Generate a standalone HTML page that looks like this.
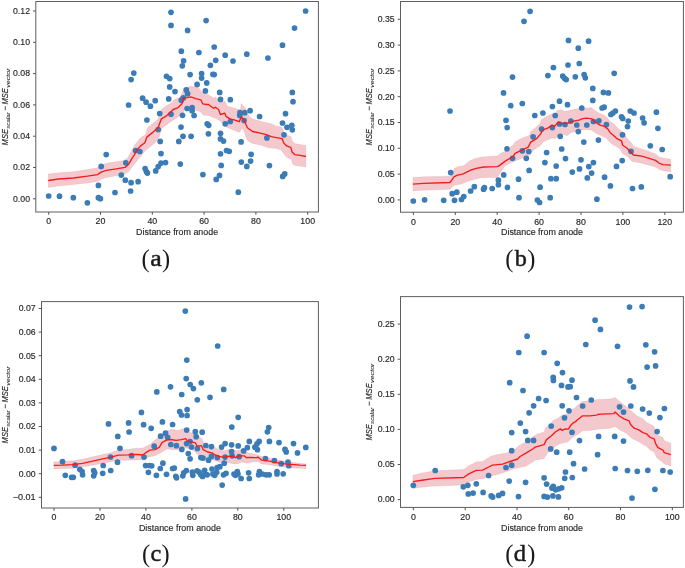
<!DOCTYPE html>
<html><head><meta charset="utf-8"><title>Figure</title>
<style>html,body{margin:0;padding:0;background:#fff}body{width:685px;height:568px;overflow:hidden;font-family:"Liberation Sans",sans-serif}</style>
</head><body>
<svg width="685" height="568" viewBox="0 0 685 568" style="display:block" font-family="'Liberation Sans', sans-serif">
<rect width="685" height="568" fill="#fff"/>
<clipPath id="ca"><rect x="35.8" y="1.5" width="282.6" height="210.5"/></clipPath>
<g clip-path="url(#ca)">
<polygon points="48.3,174.0 58.6,172.7 73.6,171.7 87.4,169.6 97.5,167.7 101.2,165.2 106.3,163.3 116.3,161.8 123.8,160.5 127.6,157.9 132.0,150.1 135.5,144.0 140.6,137.7 145.6,134.6 147.5,127.7 153.1,123.3 158.1,118.9 161.3,109.5 165.7,106.3 170.7,103.2 174.5,99.4 179.5,97.6 182.0,93.8 183.9,88.1 190.8,86.3 198.3,87.5 202.1,91.9 208.4,95.0 211.0,96.3 213.5,98.2 215.4,96.9 218.6,100.1 221.1,102.6 224.8,101.3 227.3,106.3 234.9,108.2 240.5,110.1 241.2,103.6 245.5,108.2 246.2,112.6 249.9,117.0 252.5,118.9 261.2,121.4 271.3,123.7 275.1,125.7 281.4,126.9 283.3,130.1 283.9,133.9 290.8,136.4 292.1,140.8 294.6,143.6 300.2,144.5 305.9,145.5 305.9,167.1 300.2,166.2 295.2,165.6 292.7,164.0 291.4,159.6 286.4,157.1 283.3,153.3 281.4,149.9 275.1,148.3 268.8,147.8 261.2,145.3 252.5,143.4 248.1,140.9 246.2,137.7 243.7,130.2 241.8,128.3 239.9,132.1 237.4,131.7 231.1,128.9 226.1,127.1 223.6,123.9 219.8,120.8 215.4,118.3 211.0,116.4 209.6,115.8 203.3,115.1 200.8,112.0 195.8,110.1 190.8,108.2 185.1,107.6 183.2,112.6 178.2,117.0 169.4,122.7 161.9,128.3 158.8,137.7 155.0,142.8 145.6,150.3 132.0,167.1 128.9,171.5 123.8,174.6 116.3,175.8 106.3,177.5 101.2,179.2 97.5,181.5 87.4,183.1 73.6,184.6 58.6,186.1 48.3,187.4" fill="#d42638" fill-opacity="0.25" stroke="#d42638" stroke-width="0.6" stroke-opacity="0.16"/>
<g fill="#3b7cb6">
<circle cx="171.0" cy="12.3" r="2.85"/>
<circle cx="171.0" cy="25.4" r="2.85"/>
<circle cx="133.8" cy="73.1" r="2.85"/>
<circle cx="131.1" cy="79.6" r="2.85"/>
<circle cx="166.5" cy="76.3" r="2.85"/>
<circle cx="169.7" cy="78.6" r="2.85"/>
<circle cx="169.7" cy="86.9" r="2.85"/>
<circle cx="142.6" cy="98.2" r="2.85"/>
<circle cx="146.1" cy="102.2" r="2.85"/>
<circle cx="150.4" cy="106.2" r="2.85"/>
<circle cx="155.2" cy="100.7" r="2.85"/>
<circle cx="128.6" cy="105.0" r="2.85"/>
<circle cx="168.7" cy="98.9" r="2.85"/>
<circle cx="159.7" cy="113.5" r="2.85"/>
<circle cx="146.9" cy="120.0" r="2.85"/>
<circle cx="158.2" cy="129.6" r="2.85"/>
<circle cx="171.0" cy="114.2" r="2.85"/>
<circle cx="160.2" cy="141.4" r="2.85"/>
<circle cx="48.7" cy="196.0" r="2.85"/>
<circle cx="59.5" cy="196.2" r="2.85"/>
<circle cx="73.3" cy="197.7" r="2.85"/>
<circle cx="87.4" cy="202.8" r="2.85"/>
<circle cx="98.4" cy="197.7" r="2.85"/>
<circle cx="100.4" cy="198.7" r="2.85"/>
<circle cx="115.0" cy="192.5" r="2.85"/>
<circle cx="98.4" cy="185.4" r="2.85"/>
<circle cx="101.2" cy="166.4" r="2.85"/>
<circle cx="106.2" cy="154.6" r="2.85"/>
<circle cx="121.3" cy="175.1" r="2.85"/>
<circle cx="125.3" cy="180.2" r="2.85"/>
<circle cx="131.1" cy="182.7" r="2.85"/>
<circle cx="138.1" cy="181.7" r="2.85"/>
<circle cx="130.6" cy="191.0" r="2.85"/>
<circle cx="125.8" cy="162.8" r="2.85"/>
<circle cx="135.6" cy="150.5" r="2.85"/>
<circle cx="139.9" cy="151.5" r="2.85"/>
<circle cx="145.1" cy="168.6" r="2.85"/>
<circle cx="146.4" cy="171.6" r="2.85"/>
<circle cx="147.4" cy="173.1" r="2.85"/>
<circle cx="155.7" cy="170.9" r="2.85"/>
<circle cx="158.2" cy="166.6" r="2.85"/>
<circle cx="161.0" cy="163.1" r="2.85"/>
<circle cx="165.5" cy="162.6" r="2.85"/>
<circle cx="161.0" cy="153.6" r="2.85"/>
<circle cx="187.6" cy="30.4" r="2.85"/>
<circle cx="206.1" cy="20.6" r="2.85"/>
<circle cx="305.6" cy="11.0" r="2.85"/>
<circle cx="294.5" cy="28.1" r="2.85"/>
<circle cx="282.5" cy="45.2" r="2.85"/>
<circle cx="267.9" cy="58.0" r="2.85"/>
<circle cx="246.8" cy="54.2" r="2.85"/>
<circle cx="214.2" cy="47.0" r="2.85"/>
<circle cx="181.3" cy="51.2" r="2.85"/>
<circle cx="198.9" cy="52.5" r="2.85"/>
<circle cx="225.2" cy="55.2" r="2.85"/>
<circle cx="215.7" cy="60.3" r="2.85"/>
<circle cx="233.0" cy="61.0" r="2.85"/>
<circle cx="183.6" cy="60.8" r="2.85"/>
<circle cx="182.3" cy="65.8" r="2.85"/>
<circle cx="210.4" cy="65.3" r="2.85"/>
<circle cx="190.1" cy="74.6" r="2.85"/>
<circle cx="201.6" cy="73.6" r="2.85"/>
<circle cx="201.6" cy="78.1" r="2.85"/>
<circle cx="212.9" cy="74.3" r="2.85"/>
<circle cx="214.2" cy="74.6" r="2.85"/>
<circle cx="197.1" cy="84.4" r="2.85"/>
<circle cx="206.7" cy="82.9" r="2.85"/>
<circle cx="175.0" cy="91.6" r="2.85"/>
<circle cx="186.3" cy="89.9" r="2.85"/>
<circle cx="187.6" cy="93.7" r="2.85"/>
<circle cx="205.4" cy="90.9" r="2.85"/>
<circle cx="219.7" cy="92.4" r="2.85"/>
<circle cx="220.5" cy="99.4" r="2.85"/>
<circle cx="230.3" cy="99.7" r="2.85"/>
<circle cx="181.3" cy="100.2" r="2.85"/>
<circle cx="183.3" cy="97.9" r="2.85"/>
<circle cx="187.1" cy="108.5" r="2.85"/>
<circle cx="192.1" cy="107.5" r="2.85"/>
<circle cx="192.1" cy="110.7" r="2.85"/>
<circle cx="194.1" cy="115.5" r="2.85"/>
<circle cx="182.5" cy="115.3" r="2.85"/>
<circle cx="292.3" cy="92.4" r="2.85"/>
<circle cx="293.0" cy="101.7" r="2.85"/>
<circle cx="285.5" cy="113.7" r="2.85"/>
<circle cx="250.1" cy="110.7" r="2.85"/>
<circle cx="244.8" cy="112.7" r="2.85"/>
<circle cx="240.0" cy="112.7" r="2.85"/>
<circle cx="239.8" cy="115.5" r="2.85"/>
<circle cx="259.6" cy="116.5" r="2.85"/>
<circle cx="244.1" cy="120.5" r="2.85"/>
<circle cx="230.3" cy="121.5" r="2.85"/>
<circle cx="225.2" cy="123.8" r="2.85"/>
<circle cx="207.2" cy="123.8" r="2.85"/>
<circle cx="208.7" cy="125.3" r="2.85"/>
<circle cx="181.0" cy="127.1" r="2.85"/>
<circle cx="208.4" cy="133.8" r="2.85"/>
<circle cx="220.5" cy="133.3" r="2.85"/>
<circle cx="183.0" cy="136.3" r="2.85"/>
<circle cx="191.1" cy="136.3" r="2.85"/>
<circle cx="220.5" cy="138.9" r="2.85"/>
<circle cx="223.5" cy="141.1" r="2.85"/>
<circle cx="178.8" cy="141.4" r="2.85"/>
<circle cx="282.5" cy="123.0" r="2.85"/>
<circle cx="287.0" cy="127.3" r="2.85"/>
<circle cx="291.8" cy="125.3" r="2.85"/>
<circle cx="292.3" cy="129.8" r="2.85"/>
<circle cx="284.0" cy="134.8" r="2.85"/>
<circle cx="266.9" cy="137.9" r="2.85"/>
<circle cx="241.1" cy="141.9" r="2.85"/>
<circle cx="220.5" cy="153.8" r="2.85"/>
<circle cx="226.5" cy="150.5" r="2.85"/>
<circle cx="229.2" cy="151.3" r="2.85"/>
<circle cx="251.1" cy="154.3" r="2.85"/>
<circle cx="180.3" cy="164.1" r="2.85"/>
<circle cx="221.2" cy="165.4" r="2.85"/>
<circle cx="241.3" cy="162.1" r="2.85"/>
<circle cx="250.6" cy="161.1" r="2.85"/>
<circle cx="246.8" cy="166.4" r="2.85"/>
<circle cx="269.4" cy="165.6" r="2.85"/>
<circle cx="202.9" cy="174.6" r="2.85"/>
<circle cx="219.5" cy="175.4" r="2.85"/>
<circle cx="216.2" cy="179.4" r="2.85"/>
<circle cx="284.7" cy="173.9" r="2.85"/>
<circle cx="282.7" cy="176.4" r="2.85"/>
<circle cx="238.3" cy="192.2" r="2.85"/>
</g>
<polyline points="48.3,180.5 58.6,179.0 73.6,178.0 87.4,176.2 97.5,174.6 101.2,172.1 106.3,170.4 116.3,168.9 125.1,167.4 128.9,163.9 132.0,158.3 133.6,156.1 136.8,150.3 140.6,145.9 144.9,142.8 146.8,137.1 153.1,132.1 158.1,127.7 161.3,118.9 165.7,116.4 170.7,112.0 173.2,109.5 178.2,107.6 182.0,103.8 183.2,98.2 187.0,97.6 190.8,96.9 195.8,98.6 200.8,99.8 202.7,103.8 206.5,104.5 208.5,104.5 213.5,108.2 215.4,107.3 218.6,109.5 220.4,114.5 224.8,113.2 226.1,116.4 229.9,118.9 234.9,120.2 239.3,121.7 241.2,117.0 243.7,119.5 247.4,127.7 252.5,131.5 261.2,133.3 266.3,134.6 271.3,136.7 275.1,137.4 282.0,138.6 283.9,143.3 287.0,146.2 290.8,147.4 292.1,152.1 294.6,154.6 300.2,155.4 305.9,156.5" fill="none" stroke="#f61a1c" stroke-width="1.35" stroke-linejoin="round"/>
</g>
<rect x="35.8" y="1.5" width="282.6" height="210.5" fill="none" stroke="#5e5e5e" stroke-width="1"/>
<path d="M48.7 212.0v2.8M100.5 212.0v2.8M152.3 212.0v2.8M204.1 212.0v2.8M255.9 212.0v2.8M307.7 212.0v2.8M35.8 198.8h-2.8M35.8 167.5h-2.8M35.8 136.2h-2.8M35.8 104.9h-2.8M35.8 73.6h-2.8M35.8 42.3h-2.8M35.8 11.0h-2.8" stroke="#444" stroke-width="0.9" fill="none"/>
<g fill="#262626" font-size="8.9" stroke="#262626" stroke-width="0.15" style="filter:grayscale(1)">
<text x="48.7" y="224.3" text-anchor="middle" textLength="4.9" lengthAdjust="spacingAndGlyphs">0</text>
<text x="100.5" y="224.3" text-anchor="middle" textLength="9.8" lengthAdjust="spacingAndGlyphs">20</text>
<text x="152.3" y="224.3" text-anchor="middle" textLength="9.8" lengthAdjust="spacingAndGlyphs">40</text>
<text x="204.1" y="224.3" text-anchor="middle" textLength="9.8" lengthAdjust="spacingAndGlyphs">60</text>
<text x="255.9" y="224.3" text-anchor="middle" textLength="9.8" lengthAdjust="spacingAndGlyphs">80</text>
<text x="307.7" y="224.3" text-anchor="middle" textLength="14.7" lengthAdjust="spacingAndGlyphs">100</text>
<text x="30.0" y="201.6" text-anchor="end" textLength="17.0" lengthAdjust="spacingAndGlyphs">0.00</text>
<text x="30.0" y="170.3" text-anchor="end" textLength="17.0" lengthAdjust="spacingAndGlyphs">0.02</text>
<text x="30.0" y="139.0" text-anchor="end" textLength="17.0" lengthAdjust="spacingAndGlyphs">0.04</text>
<text x="30.0" y="107.7" text-anchor="end" textLength="17.0" lengthAdjust="spacingAndGlyphs">0.06</text>
<text x="30.0" y="76.4" text-anchor="end" textLength="17.0" lengthAdjust="spacingAndGlyphs">0.08</text>
<text x="30.0" y="45.1" text-anchor="end" textLength="17.0" lengthAdjust="spacingAndGlyphs">0.10</text>
<text x="30.0" y="13.8" text-anchor="end" textLength="17.0" lengthAdjust="spacingAndGlyphs">0.12</text>
<text x="177.1" y="235.2" text-anchor="middle" textLength="82" lengthAdjust="spacingAndGlyphs">Distance from anode</text>
<g transform="translate(8.0 106.8) rotate(-90)" font-style="italic">
<text x="-38.6" y="0" textLength="16.4" lengthAdjust="spacingAndGlyphs">MSE</text>
<text x="-21.9" y="1.5" font-size="5.9" stroke-width="0.05" textLength="16.3" lengthAdjust="spacingAndGlyphs">scalar</text>
<text x="-1.6" y="0" text-anchor="middle" textLength="4.6" lengthAdjust="spacingAndGlyphs">−</text>
<text x="2.3" y="0" textLength="16.4" lengthAdjust="spacingAndGlyphs">MSE</text>
<text x="19.0" y="1.5" font-size="5.9" stroke-width="0.05" textLength="19.5" lengthAdjust="spacingAndGlyphs">vector</text>
</g>
</g>
<g font-family="'Liberation Serif', serif" fill="#1a1a1a" style="filter:grayscale(1)">
<text x="141.5" y="267.0" font-size="24.5">(</text>
<text x="156.1" y="265.9" font-size="22.6" text-anchor="middle" stroke="#1a1a1a" stroke-width="0.45" textLength="11.5" lengthAdjust="spacingAndGlyphs">a</text>
<text x="170.2" y="267.0" font-size="24.5" text-anchor="end">)</text>
</g>
<clipPath id="cb"><rect x="400.5" y="1.5" width="282.9" height="210.7"/></clipPath>
<g clip-path="url(#cb)">
<polygon points="412.9,177.5 423.6,176.7 451.2,176.2 454.3,168.3 458.7,166.4 463.7,165.8 468.8,161.4 473.8,158.9 481.3,157.0 488.8,156.4 497.0,156.1 500.5,153.4 506.8,150.2 513.7,144.6 515.0,142.1 521.9,138.3 529.4,135.2 530.7,131.4 535.7,127.6 540.1,123.2 541.3,119.5 547.0,116.3 552.0,113.8 554.5,114.5 557.0,110.7 560.8,109.8 564.6,111.3 568.3,110.7 573.4,109.4 579.0,108.2 583.8,108.2 591.3,107.6 595.1,110.7 600.1,113.8 603.9,115.1 607.7,118.2 610.8,122.0 614.6,124.5 617.7,128.3 624.0,132.7 626.5,137.7 630.3,141.5 634.0,146.5 641.7,148.9 649.2,151.4 655.5,153.9 659.3,157.0 664.3,158.3 670.8,159.2 670.8,171.7 663.0,170.8 659.3,169.6 655.5,167.1 649.2,165.2 641.7,163.3 632.3,161.4 631.5,160.9 627.8,156.5 622.7,153.4 620.2,149.0 615.2,145.8 610.2,142.7 606.4,138.3 601.4,135.8 595.1,132.7 591.3,129.9 583.8,129.5 579.0,130.8 575.9,131.4 570.8,132.7 567.1,135.8 563.3,134.5 558.3,135.2 555.1,138.9 553.3,137.7 548.2,139.6 543.2,142.1 540.1,145.8 533.2,150.2 529.4,155.3 523.1,157.8 516.9,160.3 510.6,162.8 504.9,166.1 497.0,177.7 488.8,177.5 481.3,177.7 473.8,179.6 467.5,181.5 461.2,184.0 454.3,185.2 449.9,189.3 423.6,190.3 412.9,190.9" fill="#d42638" fill-opacity="0.25" stroke="#d42638" stroke-width="0.6" stroke-opacity="0.16"/>
<g fill="#3b7cb6">
<circle cx="450.0" cy="111.0" r="2.85"/>
<circle cx="512.5" cy="77.1" r="2.85"/>
<circle cx="503.5" cy="92.9" r="2.85"/>
<circle cx="510.7" cy="105.7" r="2.85"/>
<circle cx="506.0" cy="120.3" r="2.85"/>
<circle cx="507.2" cy="127.6" r="2.85"/>
<circle cx="530.1" cy="11.3" r="2.85"/>
<circle cx="524.0" cy="21.3" r="2.85"/>
<circle cx="568.5" cy="40.4" r="2.85"/>
<circle cx="588.6" cy="41.2" r="2.85"/>
<circle cx="578.3" cy="48.2" r="2.85"/>
<circle cx="579.3" cy="63.5" r="2.85"/>
<circle cx="568.0" cy="65.0" r="2.85"/>
<circle cx="553.4" cy="67.5" r="2.85"/>
<circle cx="547.9" cy="75.6" r="2.85"/>
<circle cx="562.7" cy="76.1" r="2.85"/>
<circle cx="564.5" cy="78.3" r="2.85"/>
<circle cx="566.2" cy="79.6" r="2.85"/>
<circle cx="575.3" cy="76.8" r="2.85"/>
<circle cx="584.1" cy="74.6" r="2.85"/>
<circle cx="585.3" cy="77.8" r="2.85"/>
<circle cx="614.2" cy="73.3" r="2.85"/>
<circle cx="592.8" cy="88.4" r="2.85"/>
<circle cx="603.4" cy="92.4" r="2.85"/>
<circle cx="608.4" cy="92.9" r="2.85"/>
<circle cx="592.8" cy="100.4" r="2.85"/>
<circle cx="522.3" cy="103.5" r="2.85"/>
<circle cx="559.5" cy="101.2" r="2.85"/>
<circle cx="552.4" cy="106.5" r="2.85"/>
<circle cx="567.5" cy="104.7" r="2.85"/>
<circle cx="581.8" cy="108.0" r="2.85"/>
<circle cx="602.1" cy="108.0" r="2.85"/>
<circle cx="604.1" cy="107.2" r="2.85"/>
<circle cx="534.8" cy="115.5" r="2.85"/>
<circle cx="542.9" cy="113.0" r="2.85"/>
<circle cx="555.2" cy="115.5" r="2.85"/>
<circle cx="615.4" cy="111.0" r="2.85"/>
<circle cx="612.9" cy="113.0" r="2.85"/>
<circle cx="610.9" cy="114.5" r="2.85"/>
<circle cx="630.3" cy="111.0" r="2.85"/>
<circle cx="634.0" cy="113.0" r="2.85"/>
<circle cx="656.4" cy="112.2" r="2.85"/>
<circle cx="621.5" cy="116.8" r="2.85"/>
<circle cx="622.7" cy="118.5" r="2.85"/>
<circle cx="628.3" cy="121.0" r="2.85"/>
<circle cx="642.6" cy="118.0" r="2.85"/>
<circle cx="644.1" cy="122.8" r="2.85"/>
<circle cx="627.5" cy="126.6" r="2.85"/>
<circle cx="657.9" cy="128.3" r="2.85"/>
<circle cx="570.8" cy="121.0" r="2.85"/>
<circle cx="576.8" cy="125.0" r="2.85"/>
<circle cx="586.8" cy="125.0" r="2.85"/>
<circle cx="593.4" cy="121.5" r="2.85"/>
<circle cx="598.9" cy="120.8" r="2.85"/>
<circle cx="606.4" cy="124.5" r="2.85"/>
<circle cx="565.0" cy="124.5" r="2.85"/>
<circle cx="559.5" cy="124.0" r="2.85"/>
<circle cx="552.4" cy="127.6" r="2.85"/>
<circle cx="541.6" cy="129.1" r="2.85"/>
<circle cx="578.3" cy="131.6" r="2.85"/>
<circle cx="560.2" cy="136.3" r="2.85"/>
<circle cx="533.1" cy="136.8" r="2.85"/>
<circle cx="622.5" cy="134.8" r="2.85"/>
<circle cx="598.4" cy="140.1" r="2.85"/>
<circle cx="583.8" cy="142.1" r="2.85"/>
<circle cx="413.3" cy="201.0" r="2.85"/>
<circle cx="424.6" cy="199.8" r="2.85"/>
<circle cx="443.7" cy="200.3" r="2.85"/>
<circle cx="454.5" cy="200.3" r="2.85"/>
<circle cx="452.2" cy="193.7" r="2.85"/>
<circle cx="456.8" cy="192.2" r="2.85"/>
<circle cx="461.5" cy="199.5" r="2.85"/>
<circle cx="463.8" cy="196.5" r="2.85"/>
<circle cx="450.7" cy="172.6" r="2.85"/>
<circle cx="470.6" cy="191.0" r="2.85"/>
<circle cx="474.3" cy="186.7" r="2.85"/>
<circle cx="483.6" cy="189.2" r="2.85"/>
<circle cx="484.4" cy="187.7" r="2.85"/>
<circle cx="492.2" cy="188.5" r="2.85"/>
<circle cx="498.4" cy="184.7" r="2.85"/>
<circle cx="498.4" cy="180.2" r="2.85"/>
<circle cx="503.7" cy="174.9" r="2.85"/>
<circle cx="507.5" cy="187.4" r="2.85"/>
<circle cx="507.0" cy="148.8" r="2.85"/>
<circle cx="512.5" cy="158.3" r="2.85"/>
<circle cx="522.3" cy="150.8" r="2.85"/>
<circle cx="528.8" cy="151.5" r="2.85"/>
<circle cx="526.3" cy="158.3" r="2.85"/>
<circle cx="546.6" cy="152.5" r="2.85"/>
<circle cx="561.7" cy="149.0" r="2.85"/>
<circle cx="565.5" cy="158.6" r="2.85"/>
<circle cx="544.9" cy="162.6" r="2.85"/>
<circle cx="556.2" cy="166.1" r="2.85"/>
<circle cx="529.1" cy="170.4" r="2.85"/>
<circle cx="581.0" cy="159.8" r="2.85"/>
<circle cx="593.4" cy="162.6" r="2.85"/>
<circle cx="588.8" cy="166.6" r="2.85"/>
<circle cx="579.5" cy="168.9" r="2.85"/>
<circle cx="572.3" cy="172.1" r="2.85"/>
<circle cx="591.6" cy="173.1" r="2.85"/>
<circle cx="587.3" cy="177.9" r="2.85"/>
<circle cx="518.5" cy="179.2" r="2.85"/>
<circle cx="550.9" cy="178.7" r="2.85"/>
<circle cx="556.2" cy="178.7" r="2.85"/>
<circle cx="604.6" cy="177.2" r="2.85"/>
<circle cx="616.5" cy="166.4" r="2.85"/>
<circle cx="622.2" cy="160.6" r="2.85"/>
<circle cx="631.0" cy="151.3" r="2.85"/>
<circle cx="650.3" cy="145.8" r="2.85"/>
<circle cx="662.2" cy="149.5" r="2.85"/>
<circle cx="670.2" cy="176.7" r="2.85"/>
<circle cx="610.4" cy="185.9" r="2.85"/>
<circle cx="540.1" cy="187.2" r="2.85"/>
<circle cx="632.5" cy="188.5" r="2.85"/>
<circle cx="641.3" cy="186.9" r="2.85"/>
<circle cx="519.0" cy="197.7" r="2.85"/>
<circle cx="550.2" cy="197.7" r="2.85"/>
<circle cx="537.4" cy="200.0" r="2.85"/>
<circle cx="539.6" cy="202.5" r="2.85"/>
<circle cx="596.9" cy="199.2" r="2.85"/>
</g>
<polyline points="412.9,184.2 423.6,183.4 449.9,182.5 454.3,176.7 457.5,175.2 462.5,174.2 466.2,172.4 471.3,169.9 476.3,168.3 483.8,167.0 497.0,166.7 498.6,166.1 505.6,160.9 513.1,156.5 515.0,153.4 521.9,150.2 528.2,147.1 530.7,142.1 536.9,138.3 540.7,133.9 542.6,130.2 548.2,127.9 552.0,125.1 554.5,126.4 558.3,122.0 561.4,123.6 564.6,122.9 568.3,123.2 570.8,122.0 575.9,120.7 579.0,120.1 582.6,118.6 586.3,118.2 592.0,118.9 595.1,122.0 600.1,125.1 604.5,126.4 607.7,128.9 610.2,132.7 613.3,135.2 616.5,138.3 621.5,140.8 622.7,145.2 626.5,147.7 630.3,151.5 633.4,155.0 641.7,156.2 649.2,158.3 655.5,160.4 659.3,163.3 663.0,164.6 670.8,165.2" fill="none" stroke="#f61a1c" stroke-width="1.35" stroke-linejoin="round"/>
</g>
<rect x="400.5" y="1.5" width="282.9" height="210.7" fill="none" stroke="#5e5e5e" stroke-width="1"/>
<path d="M413.4 212.2v2.8M455.3 212.2v2.8M497.2 212.2v2.8M539.1 212.2v2.8M581.0 212.2v2.8M622.9 212.2v2.8M664.8 212.2v2.8M400.5 199.9h-2.8M400.5 174.1h-2.8M400.5 148.3h-2.8M400.5 122.5h-2.8M400.5 96.7h-2.8M400.5 70.9h-2.8M400.5 45.1h-2.8M400.5 19.3h-2.8" stroke="#444" stroke-width="0.9" fill="none"/>
<g fill="#262626" font-size="8.9" stroke="#262626" stroke-width="0.15" style="filter:grayscale(1)">
<text x="413.4" y="224.5" text-anchor="middle" textLength="4.9" lengthAdjust="spacingAndGlyphs">0</text>
<text x="455.3" y="224.5" text-anchor="middle" textLength="9.8" lengthAdjust="spacingAndGlyphs">20</text>
<text x="497.2" y="224.5" text-anchor="middle" textLength="9.8" lengthAdjust="spacingAndGlyphs">40</text>
<text x="539.1" y="224.5" text-anchor="middle" textLength="9.8" lengthAdjust="spacingAndGlyphs">60</text>
<text x="581.0" y="224.5" text-anchor="middle" textLength="9.8" lengthAdjust="spacingAndGlyphs">80</text>
<text x="622.9" y="224.5" text-anchor="middle" textLength="14.7" lengthAdjust="spacingAndGlyphs">100</text>
<text x="664.8" y="224.5" text-anchor="middle" textLength="14.7" lengthAdjust="spacingAndGlyphs">120</text>
<text x="394.7" y="202.7" text-anchor="end" textLength="17.0" lengthAdjust="spacingAndGlyphs">0.00</text>
<text x="394.7" y="176.9" text-anchor="end" textLength="17.0" lengthAdjust="spacingAndGlyphs">0.05</text>
<text x="394.7" y="151.1" text-anchor="end" textLength="17.0" lengthAdjust="spacingAndGlyphs">0.10</text>
<text x="394.7" y="125.3" text-anchor="end" textLength="17.0" lengthAdjust="spacingAndGlyphs">0.15</text>
<text x="394.7" y="99.5" text-anchor="end" textLength="17.0" lengthAdjust="spacingAndGlyphs">0.20</text>
<text x="394.7" y="73.7" text-anchor="end" textLength="17.0" lengthAdjust="spacingAndGlyphs">0.25</text>
<text x="394.7" y="47.9" text-anchor="end" textLength="17.0" lengthAdjust="spacingAndGlyphs">0.30</text>
<text x="394.7" y="22.1" text-anchor="end" textLength="17.0" lengthAdjust="spacingAndGlyphs">0.35</text>
<text x="542.0" y="235.4" text-anchor="middle" textLength="82" lengthAdjust="spacingAndGlyphs">Distance from anode</text>
<g transform="translate(372.4 106.8) rotate(-90)" font-style="italic">
<text x="-38.6" y="0" textLength="16.4" lengthAdjust="spacingAndGlyphs">MSE</text>
<text x="-21.9" y="1.5" font-size="5.9" stroke-width="0.05" textLength="16.3" lengthAdjust="spacingAndGlyphs">scalar</text>
<text x="-1.6" y="0" text-anchor="middle" textLength="4.6" lengthAdjust="spacingAndGlyphs">−</text>
<text x="2.3" y="0" textLength="16.4" lengthAdjust="spacingAndGlyphs">MSE</text>
<text x="19.0" y="1.5" font-size="5.9" stroke-width="0.05" textLength="19.5" lengthAdjust="spacingAndGlyphs">vector</text>
</g>
</g>
<g font-family="'Liberation Serif', serif" fill="#1a1a1a" style="filter:grayscale(1)">
<text x="505.2" y="267.0" font-size="24.5">(</text>
<text x="520.8" y="265.9" font-size="22.6" text-anchor="middle" stroke="#1a1a1a" stroke-width="0.45" textLength="12.1" lengthAdjust="spacingAndGlyphs">b</text>
<text x="535.3" y="267.0" font-size="24.5" text-anchor="end">)</text>
</g>
<clipPath id="cc"><rect x="41.5" y="301.6" width="276.9" height="206.4"/></clipPath>
<g clip-path="url(#cc)">
<polygon points="53.8,462.1 72.6,460.8 82.6,459.2 92.7,456.8 102.7,454.5 110.3,452.9 118.4,450.1 127.8,449.5 136.0,448.2 142.8,448.0 149.8,444.5 155.0,440.1 162.0,433.9 167.3,430.4 172.6,429.2 177.8,430.4 183.1,428.7 190.1,432.2 197.1,434.8 202.3,439.2 204.1,444.5 211.1,448.0 214.0,447.0 219.0,449.5 224.0,450.8 227.8,449.5 232.8,450.1 236.6,450.8 241.6,449.5 245.4,452.0 249.2,452.9 256.7,454.5 261.7,456.4 268.0,457.7 274.3,458.9 280.5,460.4 286.8,461.4 300.0,463.3 306.0,463.9 306.0,468.7 300.0,468.3 286.8,467.7 280.5,466.5 274.3,465.8 268.0,464.6 261.7,463.9 257.9,461.4 251.7,462.1 246.6,463.3 241.6,462.1 237.9,463.7 234.1,463.9 229.1,462.7 224.0,463.3 219.0,462.1 214.0,460.2 207.6,459.3 198.8,455.8 193.6,450.6 186.6,448.0 179.6,449.7 172.6,449.7 167.3,448.8 162.0,452.0 155.0,455.8 149.8,456.7 142.8,459.7 136.0,459.9 127.8,460.2 118.4,460.2 110.3,462.1 102.7,463.3 92.7,465.2 82.6,467.1 72.6,468.3 53.8,469.0" fill="#d42638" fill-opacity="0.25" stroke="#d42638" stroke-width="0.6" stroke-opacity="0.16"/>
<g fill="#3b7cb6">
<circle cx="186.2" cy="378.6" r="2.85"/>
<circle cx="190.2" cy="384.5" r="2.85"/>
<circle cx="193.4" cy="388.6" r="2.85"/>
<circle cx="201.3" cy="382.8" r="2.85"/>
<circle cx="170.5" cy="386.8" r="2.85"/>
<circle cx="156.8" cy="391.9" r="2.85"/>
<circle cx="181.7" cy="394.5" r="2.85"/>
<circle cx="197.3" cy="399.8" r="2.85"/>
<circle cx="210.0" cy="397.3" r="2.85"/>
<circle cx="223.7" cy="389.4" r="2.85"/>
<circle cx="141.4" cy="412.4" r="2.85"/>
<circle cx="179.7" cy="411.5" r="2.85"/>
<circle cx="181.5" cy="415.0" r="2.85"/>
<circle cx="187.1" cy="409.6" r="2.85"/>
<circle cx="187.1" cy="415.5" r="2.85"/>
<circle cx="128.6" cy="422.9" r="2.85"/>
<circle cx="129.1" cy="432.0" r="2.85"/>
<circle cx="143.6" cy="424.7" r="2.85"/>
<circle cx="151.2" cy="428.3" r="2.85"/>
<circle cx="162.4" cy="421.9" r="2.85"/>
<circle cx="172.6" cy="424.5" r="2.85"/>
<circle cx="186.7" cy="430.1" r="2.85"/>
<circle cx="195.3" cy="431.7" r="2.85"/>
<circle cx="202.2" cy="432.2" r="2.85"/>
<circle cx="196.2" cy="436.7" r="2.85"/>
<circle cx="165.5" cy="433.2" r="2.85"/>
<circle cx="167.6" cy="437.3" r="2.85"/>
<circle cx="160.6" cy="436.2" r="2.85"/>
<circle cx="231.8" cy="427.1" r="2.85"/>
<circle cx="238.2" cy="417.3" r="2.85"/>
<circle cx="154.2" cy="446.2" r="2.85"/>
<circle cx="170.8" cy="444.5" r="2.85"/>
<circle cx="176.4" cy="445.7" r="2.85"/>
<circle cx="181.8" cy="449.4" r="2.85"/>
<circle cx="186.6" cy="443.6" r="2.85"/>
<circle cx="190.1" cy="441.5" r="2.85"/>
<circle cx="191.5" cy="447.1" r="2.85"/>
<circle cx="197.4" cy="448.5" r="2.85"/>
<circle cx="188.3" cy="453.6" r="2.85"/>
<circle cx="190.1" cy="458.8" r="2.85"/>
<circle cx="205.8" cy="445.5" r="2.85"/>
<circle cx="211.4" cy="446.6" r="2.85"/>
<circle cx="221.6" cy="447.1" r="2.85"/>
<circle cx="225.1" cy="443.6" r="2.85"/>
<circle cx="231.6" cy="444.8" r="2.85"/>
<circle cx="238.2" cy="445.9" r="2.85"/>
<circle cx="231.6" cy="451.5" r="2.85"/>
<circle cx="131.6" cy="455.7" r="2.85"/>
<circle cx="144.0" cy="457.1" r="2.85"/>
<circle cx="120.0" cy="448.3" r="2.85"/>
<circle cx="200.9" cy="457.6" r="2.85"/>
<circle cx="203.0" cy="458.1" r="2.85"/>
<circle cx="208.5" cy="460.2" r="2.85"/>
<circle cx="211.4" cy="456.4" r="2.85"/>
<circle cx="217.4" cy="457.6" r="2.85"/>
<circle cx="225.1" cy="457.1" r="2.85"/>
<circle cx="224.2" cy="463.2" r="2.85"/>
<circle cx="232.1" cy="455.8" r="2.85"/>
<circle cx="239.1" cy="456.7" r="2.85"/>
<circle cx="162.9" cy="463.2" r="2.85"/>
<circle cx="145.6" cy="465.6" r="2.85"/>
<circle cx="149.4" cy="465.5" r="2.85"/>
<circle cx="151.7" cy="465.8" r="2.85"/>
<circle cx="160.3" cy="468.5" r="2.85"/>
<circle cx="172.6" cy="468.5" r="2.85"/>
<circle cx="174.3" cy="468.1" r="2.85"/>
<circle cx="219.9" cy="466.7" r="2.85"/>
<circle cx="217.2" cy="467.6" r="2.85"/>
<circle cx="212.0" cy="469.0" r="2.85"/>
<circle cx="108.5" cy="423.9" r="2.85"/>
<circle cx="185.3" cy="311.1" r="2.85"/>
<circle cx="217.7" cy="346.0" r="2.85"/>
<circle cx="186.8" cy="360.1" r="2.85"/>
<circle cx="54.0" cy="448.4" r="2.85"/>
<circle cx="62.5" cy="461.7" r="2.85"/>
<circle cx="65.3" cy="475.3" r="2.85"/>
<circle cx="71.6" cy="477.3" r="2.85"/>
<circle cx="73.3" cy="477.3" r="2.85"/>
<circle cx="75.1" cy="465.2" r="2.85"/>
<circle cx="79.8" cy="469.3" r="2.85"/>
<circle cx="82.1" cy="471.5" r="2.85"/>
<circle cx="82.6" cy="474.8" r="2.85"/>
<circle cx="93.7" cy="470.5" r="2.85"/>
<circle cx="94.7" cy="472.8" r="2.85"/>
<circle cx="93.7" cy="475.8" r="2.85"/>
<circle cx="102.7" cy="473.3" r="2.85"/>
<circle cx="103.2" cy="465.5" r="2.85"/>
<circle cx="110.7" cy="470.5" r="2.85"/>
<circle cx="110.5" cy="457.0" r="2.85"/>
<circle cx="117.5" cy="462.2" r="2.85"/>
<circle cx="117.8" cy="436.4" r="2.85"/>
<circle cx="148.4" cy="472.3" r="2.85"/>
<circle cx="156.4" cy="475.3" r="2.85"/>
<circle cx="166.5" cy="474.3" r="2.85"/>
<circle cx="268.7" cy="427.6" r="2.85"/>
<circle cx="267.4" cy="431.8" r="2.85"/>
<circle cx="243.6" cy="450.9" r="2.85"/>
<circle cx="247.3" cy="447.7" r="2.85"/>
<circle cx="249.3" cy="441.4" r="2.85"/>
<circle cx="254.9" cy="447.2" r="2.85"/>
<circle cx="257.4" cy="449.7" r="2.85"/>
<circle cx="256.9" cy="443.9" r="2.85"/>
<circle cx="259.1" cy="441.4" r="2.85"/>
<circle cx="269.4" cy="441.4" r="2.85"/>
<circle cx="279.0" cy="442.6" r="2.85"/>
<circle cx="265.4" cy="458.5" r="2.85"/>
<circle cx="274.4" cy="460.7" r="2.85"/>
<circle cx="281.2" cy="463.7" r="2.85"/>
<circle cx="288.0" cy="462.2" r="2.85"/>
<circle cx="288.8" cy="465.7" r="2.85"/>
<circle cx="285.0" cy="449.4" r="2.85"/>
<circle cx="286.2" cy="451.9" r="2.85"/>
<circle cx="293.5" cy="443.6" r="2.85"/>
<circle cx="297.5" cy="452.9" r="2.85"/>
<circle cx="305.8" cy="447.4" r="2.85"/>
<circle cx="175.8" cy="476.3" r="2.85"/>
<circle cx="176.5" cy="477.8" r="2.85"/>
<circle cx="182.8" cy="475.8" r="2.85"/>
<circle cx="183.8" cy="472.8" r="2.85"/>
<circle cx="186.3" cy="470.5" r="2.85"/>
<circle cx="192.3" cy="472.0" r="2.85"/>
<circle cx="192.8" cy="475.3" r="2.85"/>
<circle cx="197.1" cy="470.8" r="2.85"/>
<circle cx="199.1" cy="472.0" r="2.85"/>
<circle cx="200.9" cy="474.8" r="2.85"/>
<circle cx="202.6" cy="476.5" r="2.85"/>
<circle cx="204.6" cy="470.3" r="2.85"/>
<circle cx="205.4" cy="474.0" r="2.85"/>
<circle cx="207.2" cy="474.8" r="2.85"/>
<circle cx="212.9" cy="474.0" r="2.85"/>
<circle cx="214.7" cy="475.3" r="2.85"/>
<circle cx="216.7" cy="472.3" r="2.85"/>
<circle cx="223.5" cy="474.8" r="2.85"/>
<circle cx="226.0" cy="473.3" r="2.85"/>
<circle cx="234.0" cy="474.0" r="2.85"/>
<circle cx="235.5" cy="475.3" r="2.85"/>
<circle cx="237.3" cy="471.5" r="2.85"/>
<circle cx="238.0" cy="474.0" r="2.85"/>
<circle cx="241.1" cy="478.5" r="2.85"/>
<circle cx="248.6" cy="472.8" r="2.85"/>
<circle cx="249.3" cy="478.5" r="2.85"/>
<circle cx="259.4" cy="471.5" r="2.85"/>
<circle cx="258.6" cy="474.8" r="2.85"/>
<circle cx="262.4" cy="474.0" r="2.85"/>
<circle cx="266.2" cy="474.8" r="2.85"/>
<circle cx="269.2" cy="474.8" r="2.85"/>
<circle cx="277.0" cy="471.5" r="2.85"/>
<circle cx="277.0" cy="474.0" r="2.85"/>
<circle cx="283.2" cy="473.8" r="2.85"/>
<circle cx="222.2" cy="485.1" r="2.85"/>
<circle cx="185.6" cy="498.9" r="2.85"/>
</g>
<polyline points="53.8,465.4 62.6,465.2 72.6,464.6 82.6,463.3 92.7,461.2 102.7,458.9 110.3,457.4 118.4,455.2 127.8,454.9 136.0,454.3 142.8,455.0 146.3,452.3 149.8,450.2 155.0,449.7 159.4,447.1 162.0,442.7 166.4,440.1 170.8,439.5 176.1,440.4 181.3,439.7 185.7,438.7 187.4,440.9 191.8,442.2 195.3,442.7 197.1,446.2 201.5,445.7 203.2,449.7 207.6,452.0 212.8,453.2 214.0,454.5 219.0,456.4 224.0,457.4 227.8,456.4 232.8,456.2 235.3,457.7 239.1,455.8 244.1,455.8 246.6,457.7 249.8,457.4 256.7,457.7 257.9,457.0 261.7,460.2 268.0,460.8 274.3,462.1 280.5,463.3 286.8,464.2 294.4,464.6 300.0,465.2 306.0,465.4" fill="none" stroke="#f61a1c" stroke-width="1.35" stroke-linejoin="round"/>
</g>
<rect x="41.5" y="301.6" width="276.9" height="206.4" fill="none" stroke="#5e5e5e" stroke-width="1"/>
<path d="M54.0 508.0v2.8M100.0 508.0v2.8M145.9 508.0v2.8M191.9 508.0v2.8M237.8 508.0v2.8M283.8 508.0v2.8M41.5 497.3h-2.8M41.5 473.7h-2.8M41.5 450.1h-2.8M41.5 426.5h-2.8M41.5 402.9h-2.8M41.5 379.3h-2.8M41.5 355.7h-2.8M41.5 332.1h-2.8M41.5 308.5h-2.8" stroke="#444" stroke-width="0.9" fill="none"/>
<g fill="#262626" font-size="8.9" stroke="#262626" stroke-width="0.15" style="filter:grayscale(1)">
<text x="54.0" y="520.3" text-anchor="middle" textLength="4.9" lengthAdjust="spacingAndGlyphs">0</text>
<text x="100.0" y="520.3" text-anchor="middle" textLength="9.8" lengthAdjust="spacingAndGlyphs">20</text>
<text x="145.9" y="520.3" text-anchor="middle" textLength="9.8" lengthAdjust="spacingAndGlyphs">40</text>
<text x="191.9" y="520.3" text-anchor="middle" textLength="9.8" lengthAdjust="spacingAndGlyphs">60</text>
<text x="237.8" y="520.3" text-anchor="middle" textLength="9.8" lengthAdjust="spacingAndGlyphs">80</text>
<text x="283.8" y="520.3" text-anchor="middle" textLength="14.7" lengthAdjust="spacingAndGlyphs">100</text>
<text x="35.7" y="500.1" text-anchor="end" textLength="23.0" lengthAdjust="spacingAndGlyphs">−0.01</text>
<text x="35.7" y="476.5" text-anchor="end" textLength="17.0" lengthAdjust="spacingAndGlyphs">0.00</text>
<text x="35.7" y="452.9" text-anchor="end" textLength="17.0" lengthAdjust="spacingAndGlyphs">0.01</text>
<text x="35.7" y="429.3" text-anchor="end" textLength="17.0" lengthAdjust="spacingAndGlyphs">0.02</text>
<text x="35.7" y="405.7" text-anchor="end" textLength="17.0" lengthAdjust="spacingAndGlyphs">0.03</text>
<text x="35.7" y="382.1" text-anchor="end" textLength="17.0" lengthAdjust="spacingAndGlyphs">0.04</text>
<text x="35.7" y="358.5" text-anchor="end" textLength="17.0" lengthAdjust="spacingAndGlyphs">0.05</text>
<text x="35.7" y="334.9" text-anchor="end" textLength="17.0" lengthAdjust="spacingAndGlyphs">0.06</text>
<text x="35.7" y="311.3" text-anchor="end" textLength="17.0" lengthAdjust="spacingAndGlyphs">0.07</text>
<text x="179.9" y="531.2" text-anchor="middle" textLength="82" lengthAdjust="spacingAndGlyphs">Distance from anode</text>
<g transform="translate(8.0 404.8) rotate(-90)" font-style="italic">
<text x="-38.6" y="0" textLength="16.4" lengthAdjust="spacingAndGlyphs">MSE</text>
<text x="-21.9" y="1.5" font-size="5.9" stroke-width="0.05" textLength="16.3" lengthAdjust="spacingAndGlyphs">scalar</text>
<text x="-1.6" y="0" text-anchor="middle" textLength="4.6" lengthAdjust="spacingAndGlyphs">−</text>
<text x="2.3" y="0" textLength="16.4" lengthAdjust="spacingAndGlyphs">MSE</text>
<text x="19.0" y="1.5" font-size="5.9" stroke-width="0.05" textLength="19.5" lengthAdjust="spacingAndGlyphs">vector</text>
</g>
</g>
<g font-family="'Liberation Serif', serif" fill="#1a1a1a" style="filter:grayscale(1)">
<text x="142.1" y="562.4" font-size="24.5">(</text>
<text x="156.0" y="561.3" font-size="22.6" text-anchor="middle" stroke="#1a1a1a" stroke-width="0.45" textLength="10.8" lengthAdjust="spacingAndGlyphs">c</text>
<text x="169.7" y="562.4" font-size="24.5" text-anchor="end">)</text>
</g>
<clipPath id="cd"><rect x="400.5" y="296.6" width="282.9" height="210.8"/></clipPath>
<g clip-path="url(#cd)">
<polygon points="412.9,475.2 423.6,472.7 434.9,470.8 463.7,469.5 468.8,465.8 476.3,462.0 482.6,461.4 488.8,457.6 490.0,456.5 497.5,454.6 506.3,453.0 515.1,449.0 519.5,445.2 526.4,441.5 532.7,437.1 536.5,434.5 544.0,432.0 545.9,427.6 550.3,424.5 552.8,420.7 557.8,418.2 562.2,415.1 567.8,413.8 570.4,410.7 576.0,406.9 576.3,406.3 582.6,401.3 590.1,400.7 597.7,399.4 610.2,399.1 615.2,397.6 620.3,401.9 625.3,405.7 630.3,410.1 636.7,415.7 642.9,418.8 646.7,422.6 654.2,426.4 655.5,433.9 663.0,437.7 664.3,440.8 670.8,443.3 670.8,465.9 664.3,464.0 661.8,461.5 656.8,457.8 654.2,452.1 650.5,450.2 646.7,446.5 639.2,442.1 631.6,438.3 630.3,437.1 626.5,433.3 620.3,430.2 615.2,426.4 610.2,428.3 598.9,428.9 590.1,430.4 582.6,430.8 576.3,435.2 576.0,435.2 571.6,438.3 567.8,442.1 561.6,443.3 556.5,445.2 552.8,449.0 547.8,452.8 544.0,458.4 535.2,460.3 530.2,463.4 526.4,466.1 513.1,468.9 506.8,471.6 496.8,474.8 488.8,476.5 482.6,478.7 476.3,479.6 468.8,482.1 463.7,485.0 434.9,485.9 423.6,487.1 412.9,488.4" fill="#d42638" fill-opacity="0.25" stroke="#d42638" stroke-width="0.6" stroke-opacity="0.16"/>
<g fill="#3b7cb6">
<circle cx="509.7" cy="382.7" r="2.85"/>
<circle cx="629.5" cy="307.1" r="2.85"/>
<circle cx="642.1" cy="306.6" r="2.85"/>
<circle cx="595.1" cy="320.2" r="2.85"/>
<circle cx="600.4" cy="329.4" r="2.85"/>
<circle cx="527.1" cy="336.2" r="2.85"/>
<circle cx="585.8" cy="344.5" r="2.85"/>
<circle cx="617.5" cy="346.3" r="2.85"/>
<circle cx="645.8" cy="344.8" r="2.85"/>
<circle cx="654.6" cy="351.8" r="2.85"/>
<circle cx="518.8" cy="352.5" r="2.85"/>
<circle cx="544.1" cy="352.5" r="2.85"/>
<circle cx="557.2" cy="363.3" r="2.85"/>
<circle cx="647.1" cy="367.1" r="2.85"/>
<circle cx="655.6" cy="365.9" r="2.85"/>
<circle cx="562.5" cy="372.6" r="2.85"/>
<circle cx="553.2" cy="377.4" r="2.85"/>
<circle cx="553.4" cy="380.4" r="2.85"/>
<circle cx="572.0" cy="380.2" r="2.85"/>
<circle cx="561.5" cy="385.4" r="2.85"/>
<circle cx="568.0" cy="386.9" r="2.85"/>
<circle cx="570.2" cy="386.7" r="2.85"/>
<circle cx="630.0" cy="380.9" r="2.85"/>
<circle cx="633.5" cy="386.9" r="2.85"/>
<circle cx="523.0" cy="390.5" r="2.85"/>
<circle cx="538.6" cy="398.5" r="2.85"/>
<circle cx="546.1" cy="400.5" r="2.85"/>
<circle cx="576.5" cy="397.5" r="2.85"/>
<circle cx="591.3" cy="400.0" r="2.85"/>
<circle cx="533.6" cy="405.8" r="2.85"/>
<circle cx="562.2" cy="405.8" r="2.85"/>
<circle cx="582.6" cy="406.0" r="2.85"/>
<circle cx="529.1" cy="412.8" r="2.85"/>
<circle cx="569.0" cy="410.8" r="2.85"/>
<circle cx="564.5" cy="417.8" r="2.85"/>
<circle cx="619.5" cy="406.8" r="2.85"/>
<circle cx="623.5" cy="412.1" r="2.85"/>
<circle cx="630.8" cy="406.0" r="2.85"/>
<circle cx="642.6" cy="409.0" r="2.85"/>
<circle cx="649.3" cy="413.1" r="2.85"/>
<circle cx="664.4" cy="408.5" r="2.85"/>
<circle cx="659.9" cy="417.6" r="2.85"/>
<circle cx="520.3" cy="423.1" r="2.85"/>
<circle cx="551.2" cy="426.1" r="2.85"/>
<circle cx="413.3" cy="485.3" r="2.85"/>
<circle cx="435.2" cy="470.5" r="2.85"/>
<circle cx="463.3" cy="486.8" r="2.85"/>
<circle cx="467.8" cy="485.3" r="2.85"/>
<circle cx="468.3" cy="493.9" r="2.85"/>
<circle cx="473.1" cy="493.1" r="2.85"/>
<circle cx="476.3" cy="483.8" r="2.85"/>
<circle cx="483.1" cy="492.4" r="2.85"/>
<circle cx="488.6" cy="475.5" r="2.85"/>
<circle cx="491.2" cy="495.9" r="2.85"/>
<circle cx="492.7" cy="497.1" r="2.85"/>
<circle cx="498.7" cy="495.4" r="2.85"/>
<circle cx="502.5" cy="493.4" r="2.85"/>
<circle cx="506.0" cy="467.5" r="2.85"/>
<circle cx="509.2" cy="481.1" r="2.85"/>
<circle cx="511.7" cy="465.2" r="2.85"/>
<circle cx="511.7" cy="450.7" r="2.85"/>
<circle cx="511.7" cy="432.6" r="2.85"/>
<circle cx="525.6" cy="431.6" r="2.85"/>
<circle cx="572.0" cy="432.3" r="2.85"/>
<circle cx="657.1" cy="431.6" r="2.85"/>
<circle cx="527.8" cy="440.4" r="2.85"/>
<circle cx="533.6" cy="440.4" r="2.85"/>
<circle cx="579.5" cy="440.6" r="2.85"/>
<circle cx="598.6" cy="436.4" r="2.85"/>
<circle cx="614.7" cy="436.4" r="2.85"/>
<circle cx="623.5" cy="441.1" r="2.85"/>
<circle cx="550.7" cy="448.9" r="2.85"/>
<circle cx="556.7" cy="452.2" r="2.85"/>
<circle cx="569.7" cy="452.2" r="2.85"/>
<circle cx="597.6" cy="454.7" r="2.85"/>
<circle cx="573.5" cy="463.7" r="2.85"/>
<circle cx="584.6" cy="469.0" r="2.85"/>
<circle cx="615.2" cy="468.5" r="2.85"/>
<circle cx="627.5" cy="470.5" r="2.85"/>
<circle cx="637.3" cy="471.3" r="2.85"/>
<circle cx="647.8" cy="470.3" r="2.85"/>
<circle cx="662.9" cy="470.5" r="2.85"/>
<circle cx="670.2" cy="472.0" r="2.85"/>
<circle cx="565.5" cy="472.0" r="2.85"/>
<circle cx="564.7" cy="478.3" r="2.85"/>
<circle cx="572.3" cy="477.5" r="2.85"/>
<circle cx="544.1" cy="477.8" r="2.85"/>
<circle cx="546.6" cy="484.1" r="2.85"/>
<circle cx="525.6" cy="482.3" r="2.85"/>
<circle cx="553.2" cy="486.3" r="2.85"/>
<circle cx="551.9" cy="488.1" r="2.85"/>
<circle cx="555.7" cy="489.8" r="2.85"/>
<circle cx="558.7" cy="488.8" r="2.85"/>
<circle cx="561.7" cy="487.8" r="2.85"/>
<circle cx="518.5" cy="496.6" r="2.85"/>
<circle cx="544.1" cy="496.4" r="2.85"/>
<circle cx="547.4" cy="497.1" r="2.85"/>
<circle cx="552.9" cy="495.9" r="2.85"/>
<circle cx="558.4" cy="496.9" r="2.85"/>
<circle cx="654.9" cy="489.3" r="2.85"/>
<circle cx="632.0" cy="498.1" r="2.85"/>
</g>
<polyline points="412.9,481.7 423.6,480.0 434.9,478.3 463.7,477.5 468.8,473.9 476.3,470.4 482.6,470.2 488.8,467.0 492.5,465.1 502.6,464.1 510.1,461.5 517.6,459.0 520.1,456.5 526.4,452.8 532.7,449.0 535.2,447.1 544.0,444.6 546.5,439.6 551.5,435.8 555.3,432.0 560.3,428.9 562.2,430.4 565.3,428.9 568.5,429.1 570.4,425.8 572.9,423.2 576.0,421.4 576.3,420.8 582.6,415.8 590.1,415.8 596.4,415.1 597.7,414.5 601.4,414.1 614.0,413.6 615.2,412.0 619.0,415.8 624.0,418.9 629.1,420.8 630.3,423.9 631.0,425.1 634.2,428.2 639.2,430.1 642.9,432.6 646.7,433.9 650.5,437.7 654.2,438.9 655.5,443.3 658.0,447.7 663.0,450.2 664.3,452.7 670.8,454.6" fill="none" stroke="#f61a1c" stroke-width="1.35" stroke-linejoin="round"/>
</g>
<rect x="400.5" y="296.6" width="282.9" height="210.8" fill="none" stroke="#5e5e5e" stroke-width="1"/>
<path d="M413.4 507.4v2.8M465.2 507.4v2.8M517.0 507.4v2.8M568.7 507.4v2.8M620.5 507.4v2.8M672.3 507.4v2.8M400.5 499.6h-2.8M400.5 464.5h-2.8M400.5 429.4h-2.8M400.5 394.3h-2.8M400.5 359.2h-2.8M400.5 324.1h-2.8" stroke="#444" stroke-width="0.9" fill="none"/>
<g fill="#262626" font-size="8.9" stroke="#262626" stroke-width="0.15" style="filter:grayscale(1)">
<text x="413.4" y="519.7" text-anchor="middle" textLength="4.9" lengthAdjust="spacingAndGlyphs">0</text>
<text x="465.2" y="519.7" text-anchor="middle" textLength="9.8" lengthAdjust="spacingAndGlyphs">20</text>
<text x="517.0" y="519.7" text-anchor="middle" textLength="9.8" lengthAdjust="spacingAndGlyphs">40</text>
<text x="568.7" y="519.7" text-anchor="middle" textLength="9.8" lengthAdjust="spacingAndGlyphs">60</text>
<text x="620.5" y="519.7" text-anchor="middle" textLength="9.8" lengthAdjust="spacingAndGlyphs">80</text>
<text x="672.3" y="519.7" text-anchor="middle" textLength="14.7" lengthAdjust="spacingAndGlyphs">100</text>
<text x="394.7" y="502.4" text-anchor="end" textLength="17.0" lengthAdjust="spacingAndGlyphs">0.00</text>
<text x="394.7" y="467.3" text-anchor="end" textLength="17.0" lengthAdjust="spacingAndGlyphs">0.05</text>
<text x="394.7" y="432.2" text-anchor="end" textLength="17.0" lengthAdjust="spacingAndGlyphs">0.10</text>
<text x="394.7" y="397.1" text-anchor="end" textLength="17.0" lengthAdjust="spacingAndGlyphs">0.15</text>
<text x="394.7" y="362.0" text-anchor="end" textLength="17.0" lengthAdjust="spacingAndGlyphs">0.20</text>
<text x="394.7" y="326.9" text-anchor="end" textLength="17.0" lengthAdjust="spacingAndGlyphs">0.25</text>
<text x="542.0" y="530.6" text-anchor="middle" textLength="82" lengthAdjust="spacingAndGlyphs">Distance from anode</text>
<g transform="translate(372.4 402.0) rotate(-90)" font-style="italic">
<text x="-38.6" y="0" textLength="16.4" lengthAdjust="spacingAndGlyphs">MSE</text>
<text x="-21.9" y="1.5" font-size="5.9" stroke-width="0.05" textLength="16.3" lengthAdjust="spacingAndGlyphs">scalar</text>
<text x="-1.6" y="0" text-anchor="middle" textLength="4.6" lengthAdjust="spacingAndGlyphs">−</text>
<text x="2.3" y="0" textLength="16.4" lengthAdjust="spacingAndGlyphs">MSE</text>
<text x="19.0" y="1.5" font-size="5.9" stroke-width="0.05" textLength="19.5" lengthAdjust="spacingAndGlyphs">vector</text>
</g>
</g>
<g font-family="'Liberation Serif', serif" fill="#1a1a1a" style="filter:grayscale(1)">
<text x="505.2" y="562.4" font-size="24.5">(</text>
<text x="520.0" y="561.3" font-size="22.6" text-anchor="middle" stroke="#1a1a1a" stroke-width="0.45" textLength="12.3" lengthAdjust="spacingAndGlyphs">d</text>
<text x="535.3" y="562.4" font-size="24.5" text-anchor="end">)</text>
</g>
</svg>
</body></html>
